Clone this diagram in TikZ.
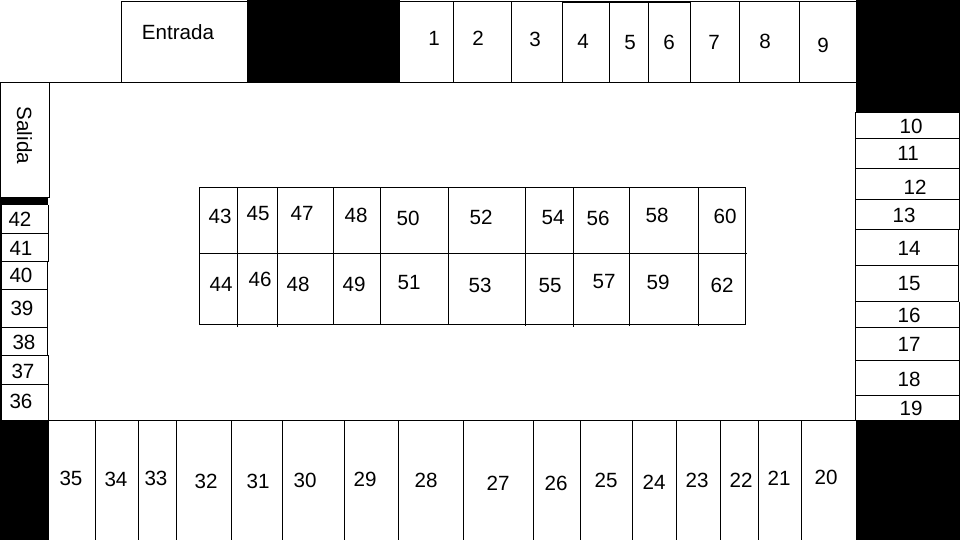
\documentclass[tikz,border=0pt]{standalone}
\usepackage{fontspec}
\setmainfont{Liberation Sans}
\tikzset{
  wall/.style={draw=black,line width=1pt},
  solid block/.style={fill=black,draw=none},
  lab/.style={inner sep=0pt,yshift=0.7pt,font=\fontsize{20.6}{21}\selectfont,text=black}
}
\begin{document}
\begin{tikzpicture}[x=1pt,y=-1pt]
\useasboundingbox (0,0) rectangle (960,540);
\fill[white] (0,0) rectangle (960,540);
% black blocks
\path[solid block] (247,0) rectangle (400,82);
\path[solid block] (855.5,0) rectangle (960,112);
\path[solid block] (0,420) rectangle (49,540);
\path[solid block] (855.5,420) rectangle (960,540);
\path[solid block] (0,197) rectangle (48,205);
\path[solid block] (0,205) rectangle (2,420);
% top row
\draw[wall] (121.5,82) -- (121.5,1.5) -- (247,1.5);
\draw[wall] (400,1.5) -- (562,1.5);
\draw[wall,line width=1.6pt] (562,1.8) -- (690.5,1.8);
\draw[wall] (690.5,1.5) -- (855.5,1.5);
\draw[wall] (0,82.5) -- (855.5,82.5);
\foreach \x in {453.5,511.5,562.5,609.5,648.5,690.5,739.5,799.5}
  \draw[wall] (\x,1.5) -- (\x,82.5);
% Salida box
\draw[wall] (0.5,82.5) -- (0.5,197.5) -- (49.5,197.5) -- (49.5,82.5);
% left column
\draw[wall] (48.5,205) -- (48.5,262);
\draw[wall,line width=1.5pt] (47.5,262) -- (47.5,355);
\draw[wall] (48.5,355) -- (48.5,420.5);
\foreach \y in {233.5,261.5,289.5,327.5,355.5,384.5}
  \draw[wall] (2,\y) -- (48,\y);
% bottom row
\draw[wall] (49,420.5) -- (855.5,420.5);
\foreach \x in {95.5,138.5,176.5,231.5,282.5,344.5,398.5,463.5,533.5,580.5,632.5,676.5,720.5,758.5,801.5}
  \draw[wall] (\x,420.5) -- (\x,540);
% right column
\draw[wall] (855.5,112.5) -- (855.5,420.5);
\draw[wall] (855.5,112.5) -- (959.5,112.5);
\draw[wall] (959.5,112.5) -- (959.5,229.5);
\draw[wall,line width=1.5pt] (958.5,229.5) -- (958.5,301.5);
\draw[wall] (959.5,301.5) -- (959.5,420.5);
\foreach \y in {138.5,168.5,199.5,229.5,265.5,301.5,327.5,360.5,395.5}
  \draw[wall] (855.5,\y) -- (959,\y);
% central block
\draw[wall] (199.5,187.5) rectangle (745.5,324.5);
\draw[wall] (199.5,253.5) -- (747,253.5);
\foreach \x/\e in {237.5/326.5,277.5/326.5,333.5/324.5,380.5/324.5,448.5/324.5,525.5/326,573.5/327,629.5/326,698.5/326}
  \draw[wall] (\x,187.5) -- (\x,\e);
% labels
\node[lab] (entrada) at (178,32.5) {Entrada};
\node[lab,rotate=-90] (salida) at (24.5,136) {Salida};
\foreach \n/\t/\x/\y in {
 a1/1/434/39,a2/2/478/39,a3/3/535/40,a4/4/583/42,a5/5/630/43,a6/6/669/43,a7/7/714/43,a8/8/765/42,a9/9/823/46,
 a10/10/911/127,a11/11/908/154,a12/12/915/188,a13/13/904/216,a14/14/909/249,a15/15/909/284,a16/16/909/316,a17/17/909/345,a18/18/909/380,a19/19/911/409,
 a20/20/826/478,a21/21/779/479,a22/22/741/481,a23/23/697/481,a24/24/654/483,a25/25/606/481,a26/26/556/484,a27/27/498/484,a28/28/426/481,a29/29/365/480,a30/30/305/481,a31/31/258/482,a32/32/206/482,a33/33/156/479,a34/34/116/480,a35/35/71/479,
 a36/36/21/402,a37/37/23/372,a38/38/24/343,a39/39/22/309,a40/40/21/276,a41/41/21/249,a42/42/20/220,
 a43/43/220/217,a45/45/258/214,a47/47/302/214,a48/48/356/216,a50/50/408/219,a52/52/481/218,a54/54/553/218,a56/56/598/219,a58/58/657/216,a60/60/725/217,
 a44/44/221/285,a46/46/260/280,b48/48/298/285,a49/49/354/285,a51/51/409/283,a53/53/480/286,a55/55/550/286,a57/57/604/282,a59/59/658/283,a62/62/722/286}
  \node[lab] (\n) at (\x,\y) {\t};
\end{tikzpicture}
\end{document}
